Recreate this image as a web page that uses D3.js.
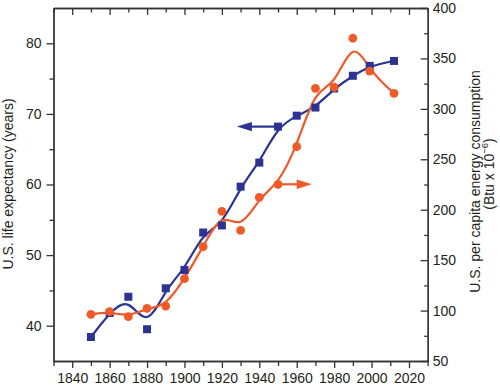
<!DOCTYPE html>
<html lang="en">
<head>
<meta charset="UTF-8">
<title>U.S. life expectancy and energy consumption</title>
<script src="https://d3js.org/d3.v7.min.js"></script>
<style>
    body { margin: 0; background: #fff; font-family: "Liberation Sans", Arial, sans-serif; }
    .axis path, .axis line { stroke: #333; stroke-width: 1.3px; }
    .axis text { font-size: 14px; fill: #231f20; font-family: "Liberation Sans", Arial, sans-serif; }
    .title { font-size: 14px; fill: #231f20; }
</style>
</head>
<body>
<div id="chart"></div>
<script>
    // data
    const lifeYears = [1850, 1860, 1870, 1880, 1890, 1900, 1910, 1920, 1930, 1940, 1950, 1960, 1970, 1980, 1990, 1999, 2012];
    const lifeExpectancy = [38.4, 41.8, 44.1, 39.5, 45.3, 47.9, 53.2, 54.2, 59.7, 63.1, 68.2, 69.75, 70.9, 73.6, 75.4, 76.8, 77.5];
    const energyYears = [1850, 1860, 1870, 1880, 1890, 1900, 1910, 1920, 1930, 1940, 1950, 1960, 1970, 1980, 1990, 1999, 2012];
    const energyUse = [96.3, 98.9, 93.9, 102.2, 104.5, 131.6, 163.3, 198.4, 179.5, 212.3, 225.2, 262.5, 320.4, 321.4, 370, 337.5, 315.4];

    const yearTicks = [1840, 1860, 1880, 1900, 1920, 1940, 1960, 1980, 2000, 2020];
    const lifeTicks = [40, 50, 60, 70, 80];
    const energyTicks = [50, 100, 150, 200, 250, 300, 350, 400];

    // arrows pointing each curve to its axis
    const lifeArrow = { from: 1950, to: 1928, value: 68.2 };
    const energyArrow = { from: 1950, to: 1968, value: 225.2 };

    const width = 500, height = 387;
    const margin = { left: 53.5, right: 72.3, top: 8, bottom: 26 };
    const blue = "#2b3492", orange = "#f05a28";

    const x = d3.scaleLinear().domain([1830, 2030]).range([margin.left, width - margin.right]);
    const yL = d3.scaleLinear().domain([35, 85]).range([height - margin.bottom, margin.top]);
    const yR = d3.scaleLinear().domain([50, 400]).range([height - margin.bottom, margin.top]);

    const svg = d3.select("#chart").append("svg")
        .attr("width", width)
        .attr("height", height);

    const x0 = margin.left, x1 = width - margin.right;
    const y0 = height - margin.bottom, y1 = margin.top;

    // minor tick positions
    const yearMinor = d3.range(1830, 2031, 20);
    const lifeMinor = [45, 55, 65, 75];
    const energyMinor = d3.range(75, 400, 50);

    // bottom axis (ticks outward)
    svg.append("g").attr("class", "axis")
        .attr("transform", `translate(0,${y0})`)
        .call(d3.axisBottom(x).tickValues(yearMinor).tickSize(5).tickSizeOuter(0).tickFormat(""));
    svg.append("g").attr("class", "axis")
        .attr("transform", `translate(0,${y0})`)
        .call(d3.axisBottom(x).tickValues(yearTicks).tickSize(7).tickPadding(5).tickSizeOuter(0).tickFormat(d3.format("d")));

    // top axis (ticks inward)
    svg.append("g").attr("class", "axis")
        .attr("transform", `translate(0,${y1})`)
        .call(d3.axisBottom(x).tickValues(yearMinor).tickSize(4.5).tickSizeOuter(0).tickFormat(""));
    svg.append("g").attr("class", "axis")
        .attr("transform", `translate(0,${y1})`)
        .call(d3.axisBottom(x).tickValues(yearTicks).tickSize(7).tickSizeOuter(0).tickFormat(""));

    // left axis (ticks outward)
    svg.append("g").attr("class", "axis")
        .attr("transform", `translate(${x0},0)`)
        .call(d3.axisLeft(yL).tickValues(lifeMinor).tickSize(4).tickSizeOuter(0).tickFormat(""));
    svg.append("g").attr("class", "axis")
        .attr("transform", `translate(${x0},0)`)
        .call(d3.axisLeft(yL).tickValues(lifeTicks).tickSize(7).tickPadding(5).tickSizeOuter(0));

    // right axis (ticks inward, labels outside)
    svg.append("g").attr("class", "axis")
        .attr("transform", `translate(${x1},0)`)
        .call(d3.axisLeft(yR).tickValues(energyMinor).tickSize(3.5).tickSizeOuter(0).tickFormat(""));
    svg.append("g").attr("class", "axis")
        .attr("transform", `translate(${x1},0)`)
        .call(d3.axisLeft(yR).tickValues(energyTicks).tickSize(7).tickSizeOuter(0).tickFormat(""));
    svg.append("g").attr("class", "axis")
        .attr("transform", `translate(${x1},0)`)
        .call(d3.axisRight(yR).tickValues(energyTicks).tickSize(0).tickPadding(5).tickSizeOuter(0))
        .call(g => g.select(".domain").remove());

    // axis titles
    svg.append("text").attr("class", "title")
        .attr("transform", "translate(13,184) rotate(-90)")
        .attr("text-anchor", "middle")
        .text("U.S. life expectancy (years)");

    svg.append("text").attr("class", "title")
        .attr("transform", "translate(480,181.5) rotate(-90)")
        .attr("text-anchor", "middle")
        .text("U.S. per capita energy consumption");

    const t2 = svg.append("text").attr("class", "title")
        .attr("transform", "translate(494,174) rotate(-90)")
        .attr("text-anchor", "middle");
    t2.append("tspan").text("(Btu x 10");
    t2.append("tspan").attr("dy", -6).attr("font-size", 9.5).text("\u22126");
    t2.append("tspan").attr("dy", 6).text(")");

    // smoothed curves
    const lifeData = lifeYears.map((yr, i) => [yr, lifeExpectancy[i]]);
    const energyData = energyYears.map((yr, i) => [yr, energyUse[i]]);

    const lifeLine = d3.line().curve(d3.curveBasis).x(d => x(d[0])).y(d => yL(d[1]));
    const energyLine = d3.line().curve(d3.curveBasis).x(d => x(d[0])).y(d => yR(d[1]));

    svg.append("path").datum(lifeData)
        .attr("d", lifeLine)
        .attr("fill", "none").attr("stroke", blue).attr("stroke-width", 2.2);

    svg.append("path").datum(energyData)
        .attr("d", energyLine)
        .attr("fill", "none").attr("stroke", orange).attr("stroke-width", 2.2);

    // arrows
    function arrow(a, yScale, color) {
        const xs = x(a.from), xe = x(a.to), yy = yScale(a.value);
        const dir = xe > xs ? 1 : -1;
        const headLen = 15, half = 4.7;
        svg.append("line")
            .attr("x1", xs).attr("y1", yy)
            .attr("x2", xe - dir * headLen + dir * 2).attr("y2", yy)
            .attr("stroke", color).attr("stroke-width", 2.2);
        svg.append("path")
            .attr("d", `M${xe},${yy} L${xe - dir * headLen},${yy - half} L${xe - dir * headLen},${yy + half} Z`)
            .attr("fill", color);
    }
    arrow(lifeArrow, yL, blue);
    arrow(energyArrow, yR, orange);

    // markers
    const sq = 8;
    svg.selectAll("rect.life").data(lifeData).enter().append("rect")
        .attr("class", "life")
        .attr("x", d => x(d[0]) - sq / 2)
        .attr("y", d => yL(d[1]) - sq / 2)
        .attr("width", sq).attr("height", sq)
        .attr("fill", blue);

    svg.selectAll("circle.energy").data(energyData).enter().append("circle")
        .attr("class", "energy")
        .attr("cx", d => x(d[0]))
        .attr("cy", d => yR(d[1]))
        .attr("r", 4.4)
        .attr("fill", orange);
</script>
</body>
</html>
